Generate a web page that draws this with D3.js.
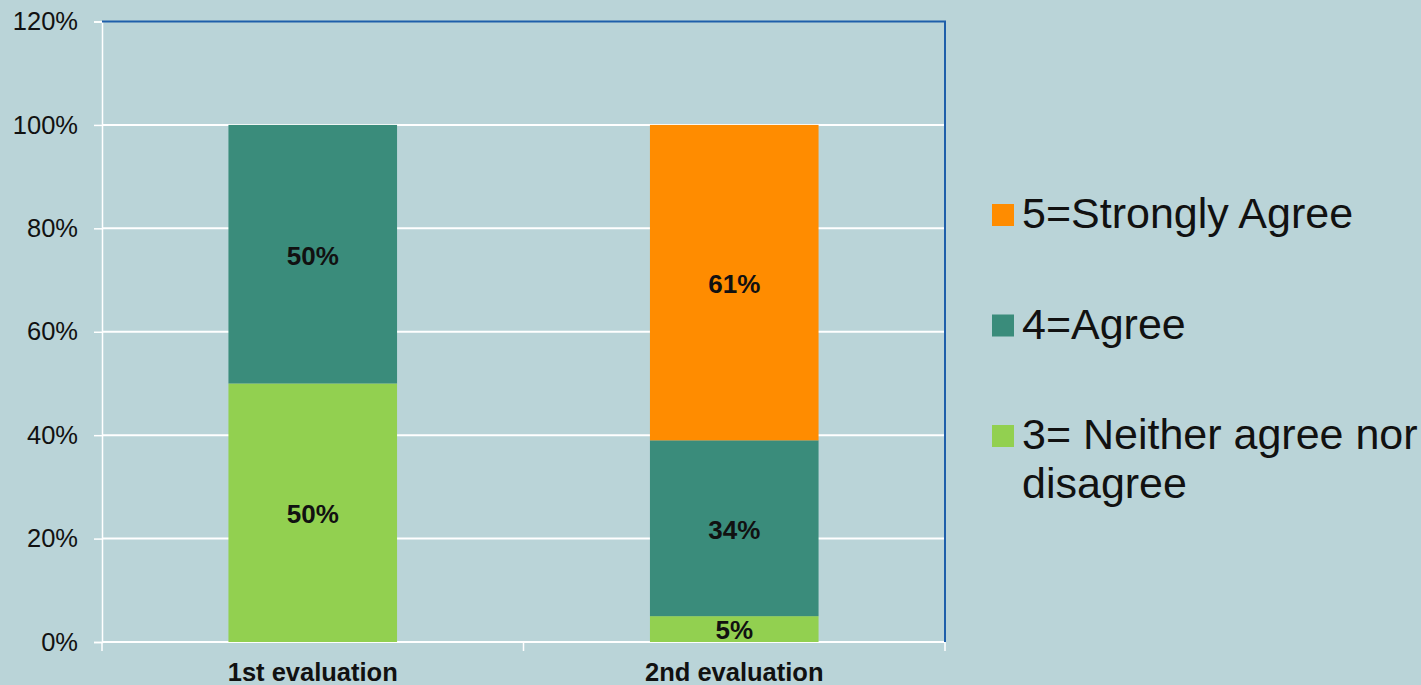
<!DOCTYPE html>
<html>
<head>
<meta charset="utf-8">
<script src="https://cdn.jsdelivr.net/npm/d3@7"></script>
<style>
    body { margin: 0; background: #bad4d8; }
    svg { display: block; font-family: Arial, "Liberation Sans", sans-serif; }
</style>
</head>
<body>
<script>
/////////////////////////////////////////DATA//////////////////////////////////////////////
var categories = ['1st evaluation', '2nd evaluation'];
var seriesNames = ['3= Neither agree nor disagree', '4=Agree', '5=Strongly Agree'];
var neither = [0.50, 0.05];
var agree = [0.50, 0.34];
var strongly = [0, 0.61];
var yTicks = [0, 0.2, 0.4, 0.6, 0.8, 1.0, 1.2];
var colors = ['#92d050', '#3a8c7b', '#ff8c00'];

/////////////////////////////////////////SETUP/////////////////////////////////////////////
var width = 1421,
    height = 685,
    plotLeft = 102,
    plotRight = 945,
    plotTop = 21.5,
    plotBottom = 642;

var svg = d3.select('body').append('svg')
    .attr('width', width)
    .attr('height', height);

svg.append('rect')
    .attr('width', width)
    .attr('height', height)
    .attr('fill', '#bad4d8');

var x = d3.scaleBand()
    .domain(categories)
    .range([plotLeft, plotRight])
    .paddingInner(0.6)
    .paddingOuter(0.3);

var y = d3.scaleLinear()
    .domain([0, 1.2])
    .range([plotBottom, plotTop]);

// build stack rows
var rows = categories.map(function (c, i) {
    return { cat: c, s0: neither[i], s1: agree[i], s2: strongly[i] };
});
var stack = d3.stack().keys(['s0', 's1', 's2']);
var layers = stack(rows);

/////////////////////////////////////////GRID & AXES///////////////////////////////////////
svg.append('g')
    .selectAll('line')
    .data(yTicks.slice(1, -1))
    .enter()
    .append('line')
    .attr('x1', plotLeft)
    .attr('x2', plotRight)
    .attr('y1', function (d) { return y(d); })
    .attr('y2', function (d) { return y(d); })
    .attr('stroke', '#ffffff')
    .attr('stroke-width', 2);

var yAxis = svg.append('g')
    .attr('transform', 'translate(' + plotLeft + ',0)')
    .call(d3.axisLeft(y).tickValues(yTicks).tickSize(8).tickPadding(16)
        .tickFormat(function (d) { return Math.round(d * 100) + '%'; }));
yAxis.select('.domain').attr('stroke', '#ffffff').attr('stroke-width', 1.5);
yAxis.selectAll('.tick line').attr('stroke', '#ffffff').attr('stroke-width', 1.5);
yAxis.selectAll('.tick text')
    .attr('font-size', '25.5px')
    .attr('font-family', 'Arial, "Liberation Sans", sans-serif')
    .attr('fill', '#111');

// bottom axis: ticks at band edges
var edges = [plotLeft, plotLeft + x.step(), plotRight];
svg.append('line')
    .attr('x1', plotLeft).attr('x2', plotRight)
    .attr('y1', plotBottom).attr('y2', plotBottom)
    .attr('stroke', '#ffffff').attr('stroke-width', 2);
svg.append('g')
    .selectAll('line')
    .data(edges)
    .enter()
    .append('line')
    .attr('x1', function (d) { return d; })
    .attr('x2', function (d) { return d; })
    .attr('y1', plotBottom)
    .attr('y2', plotBottom + 9)
    .attr('stroke', '#ffffff')
    .attr('stroke-width', 1.5);

svg.append('g')
    .selectAll('text')
    .data(categories)
    .enter()
    .append('text')
    .attr('x', function (d) { return x(d) + x.bandwidth() / 2; })
    .attr('y', 681)
    .attr('text-anchor', 'middle')
    .attr('font-size', '25.5px')
    .attr('font-weight', 'bold')
    .attr('fill', '#111')
    .text(function (d) { return d; });

/////////////////////////////////////////BARS//////////////////////////////////////////////
var layerG = svg.append('g')
    .selectAll('g')
    .data(layers)
    .enter()
    .append('g')
    .attr('fill', function (d, i) { return colors[i]; });

layerG.selectAll('rect')
    .data(function (d) { return d.filter(function (p) { return p[1] - p[0] > 0; }); })
    .enter()
    .append('rect')
    .attr('x', function (d) { return x(d.data.cat); })
    .attr('width', x.bandwidth())
    .attr('y', function (d) { return y(d[1]); })
    .attr('height', function (d) { return y(d[0]) - y(d[1]); });

layerG.selectAll('text')
    .data(function (d) { return d.filter(function (p) { return p[1] - p[0] > 0; }); })
    .enter()
    .append('text')
    .attr('x', function (d) { return x(d.data.cat) + x.bandwidth() / 2; })
    .attr('y', function (d) { return (y(d[0]) + y(d[1])) / 2; })
    .attr('dy', '0.4em')
    .attr('text-anchor', 'middle')
    .attr('font-size', '26px')
    .attr('font-weight', 'bold')
    .attr('fill', '#111')
    .text(function (d) { return Math.round((d[1] - d[0]) * 100) + '%'; });

// blue frame on top and right
svg.append('path')
    .attr('d', 'M' + plotLeft + ',' + plotTop + 'H' + plotRight + 'V' + plotBottom)
    .attr('fill', 'none')
    .attr('stroke', '#1f5faa')
    .attr('stroke-width', 2);

/////////////////////////////////////////LEGEND////////////////////////////////////////////
var legendItems = [
    { lines: ['5=Strongly Agree'], color: colors[2] },
    { lines: ['4=Agree'], color: colors[1] },
    { lines: ['3= Neither agree nor', 'disagree'], color: colors[0] }
];

var legend = svg.append('g')
    .selectAll('g')
    .data(legendItems)
    .enter()
    .append('g')
    .attr('transform', function (d, i) { return 'translate(992,' + (204 + i * 110.5) + ')'; });

legend.append('rect')
    .attr('width', 22)
    .attr('height', 22)
    .attr('fill', function (d) { return d.color; });

legend.append('text')
    .attr('x', 30)
    .attr('y', 24)
    .attr('font-size', '43px')
    .attr('fill', '#111')
    .selectAll('tspan')
    .data(function (d) { return d.lines; })
    .enter()
    .append('tspan')
    .attr('x', 30)
    .attr('dy', function (d, i) { return i ? 49 : 0; })
    .text(function (d) { return d; });
</script>
</body>
</html>
